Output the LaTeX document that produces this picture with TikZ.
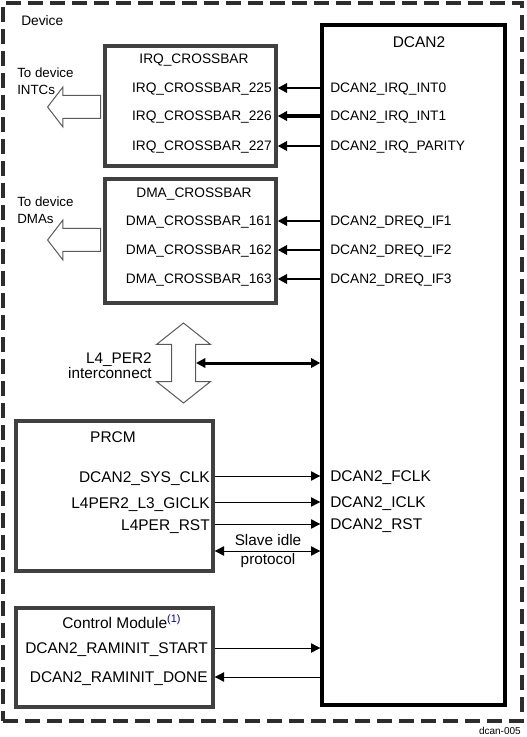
\documentclass[tikz,border=0pt]{standalone}
\usepackage{fontspec}
\setmainfont{Liberation Sans}
\usetikzlibrary{arrows.meta}
\usetikzlibrary{shapes.arrows}
\tikzstyle{every block} = []
\tikzstyle{block} = [draw=boxgray, line width=2.5pt, inner sep=0pt, every block]
\tikzstyle{sig} = [inner sep=0pt, font=\fontsize{10.3}{12}\selectfont, text height=7.4pt, text depth=0pt]
\tikzstyle{bigsig} = [inner sep=0pt, font=\fontsize{11.6}{13.5}\selectfont, text height=8.3pt, text depth=0pt]
\tikzstyle{note} = [inner sep=0pt, font=\fontsize{10}{12.75}\selectfont]
\tikzstyle{bignote} = [inner sep=0pt, font=\fontsize{11.5}{11.25}\selectfont]
\tikzstyle{wire} = [->, line width=0.75pt]
\tikzstyle{hollow} = [draw=arrowgray, fill=white, line width=0.75pt, inner xsep=0pt]
\definecolor{boxgray}{RGB}{64,64,64}
\definecolor{framegray}{RGB}{45,45,45}
\definecolor{arrowgray}{RGB}{90,90,90}
\definecolor{noteblue}{RGB}{0,0,140}

\begin{document}
\begin{tikzpicture}[x=0.75pt, y=-0.75pt, >={Triangle[length=7pt,width=7pt]}]
    \useasboundingbox (0,0) rectangle (526,737);

    % device frame
    \node[draw=framegray, line width=2.3pt, dash pattern=on 11.5pt off 5pt,
          minimum width=389.25pt, minimum height=538.5pt] (device) at (262.5,362) {};
    \node[sig, anchor=west] (devlbl) at (21,21) {Device};

    % DCAN2
    \node[block, draw=black, minimum width=137.25pt, minimum height=510pt] (dcan) at (413.5,365) {};
    \node[bigsig] (dcantitle) at (419,42) {DCAN2};
    \node[sig, anchor=west] (dint0) at (330,88) {DCAN2\_IRQ\_INT0};
    \node[sig, anchor=west] (dint1) at (330,116) {DCAN2\_IRQ\_INT1};
    \node[sig, anchor=west] (dparity) at (330,146) {DCAN2\_IRQ\_PARITY};
    \node[sig, anchor=west] (dreq1) at (330,221) {DCAN2\_DREQ\_IF1};
    \node[sig, anchor=west] (dreq2) at (330,250) {DCAN2\_DREQ\_IF2};
    \node[sig, anchor=west] (dreq3) at (330,279) {DCAN2\_DREQ\_IF3};
    \node[bigsig, anchor=west] (fclk) at (330,476) {DCAN2\_FCLK};
    \node[bigsig, anchor=west] (iclk) at (330,502) {DCAN2\_ICLK};
    \node[bigsig, anchor=west] (rst) at (330,524) {DCAN2\_RST};

    % IRQ crossbar
    \node[block, minimum width=128.25pt, minimum height=90pt] (irq) at (190.5,106) {};
    \node[sig] (irqtitle) at (194,59) {IRQ\_CROSSBAR};
    \node[sig, anchor=east] (x225) at (272,88) {IRQ\_CROSSBAR\_225};
    \node[sig, anchor=east] (x226) at (272,116) {IRQ\_CROSSBAR\_226};
    \node[sig, anchor=east] (x227) at (272,146) {IRQ\_CROSSBAR\_227};
    \draw[->, line width=1.8pt] (dcan.west |- dint0) -- (irq.east |- dint0);
    \draw[->, line width=3pt] (dcan.west |- dint1) -- (irq.east |- dint1);
    \draw[->, line width=1.8pt] (dcan.west |- dparity) -- (irq.east |- dparity);
    \node[hollow, single arrow, rotate=180, minimum height=39.75pt, inner ysep=8.25pt,
          single arrow head extend=6.375pt, single arrow tip angle=105] (intcs) at (78.5,107) {};
    \node[note, align=left, anchor=west] (intctxt) at (17,81.5) {To device\\INTCs};

    % DMA crossbar
    \node[block, minimum width=128.25pt, minimum height=93pt] (dma) at (190.5,241) {};
    \node[sig] (dmatitle) at (194,193) {DMA\_CROSSBAR};
    \node[sig, anchor=east] (x161) at (272,221) {DMA\_CROSSBAR\_161};
    \node[sig, anchor=east] (x162) at (272,250) {DMA\_CROSSBAR\_162};
    \node[sig, anchor=east] (x163) at (272,279) {DMA\_CROSSBAR\_163};
    \draw[->, line width=1.8pt] (dcan.west |- dreq1) -- (dma.east |- dreq1);
    \draw[->, line width=1.8pt] (dcan.west |- dreq2) -- (dma.east |- dreq2);
    \draw[->, line width=1.8pt] (dcan.west |- dreq3) -- (dma.east |- dreq3);
    \node[hollow, single arrow, rotate=180, minimum height=39.75pt, inner ysep=8.25pt,
          single arrow head extend=6.375pt, single arrow tip angle=105] (dmas) at (78.5,240) {};
    \node[note, align=left, anchor=west] (dmatxt) at (17,210.5) {To device\\DMAs};

    % L4 interconnect
    \node[hollow, double arrow, rotate=90, minimum height=60pt, inner ysep=8.625pt,
          double arrow head extend=11.25pt, double arrow tip angle=103] (l4per) at (183.5,363) {};
    \node[bignote, align=right, anchor=east] (l4txt) at (152,365.5) {L4\_PER2\\interconnect};
    \draw[<->, line width=2.25pt] (l4per.south) -- (dcan.west |- l4per.south);

    % PRCM
    \node[block, minimum width=147.75pt, minimum height=112.5pt] (prcm) at (114.5,496) {};
    \node[bigsig] (prcmtitle) at (113,437) {PRCM};
    \node[bigsig, anchor=east] (sysclk) at (210,477) {DCAN2\_SYS\_CLK};
    \node[bigsig, anchor=east] (giclk) at (210,503) {L4PER2\_L3\_GICLK};
    \node[bigsig, anchor=east] (perrst) at (210,525) {L4PER\_RST};
    \draw[wire] (prcm.east |- fclk) -- (dcan.west |- fclk);
    \draw[wire] (prcm.east |- iclk) -- (dcan.west |- iclk);
    \draw[wire] (prcm.east |- rst) -- (dcan.west |- rst);
    \node[inner sep=0pt, font=\fontsize{11.5}{14.25}\selectfont, align=center] (idle) at (268,551) {Slave idle\\protocol};
    \draw[<->, line width=0.75pt] (prcm.east |- idle) -- (dcan.west |- idle);

    % control module
    \node[block, minimum width=147.75pt, minimum height=74.25pt] (ctrl) at (114.5,657.5) {};
    \node[bigsig, anchor=west] (ctrltitle) at (62,623) {Control Module\textsuperscript{\color{noteblue}(1)}};
    \node[bigsig, anchor=east] (raminit) at (208,648) {DCAN2\_RAMINIT\_START};
    \node[bigsig, anchor=east] (ramdone) at (208,677) {DCAN2\_RAMINIT\_DONE};
    \draw[wire] (ctrl.east |- raminit) -- (dcan.west |- raminit);
    \draw[wire] (dcan.west |- ramdone) -- (ctrl.east |- ramdone);

    \node[inner sep=0pt, font=\fontsize{7.5}{9}\selectfont, anchor=east] (figid) at (521,731) {dcan-005};
\end{tikzpicture}
\end{document}
